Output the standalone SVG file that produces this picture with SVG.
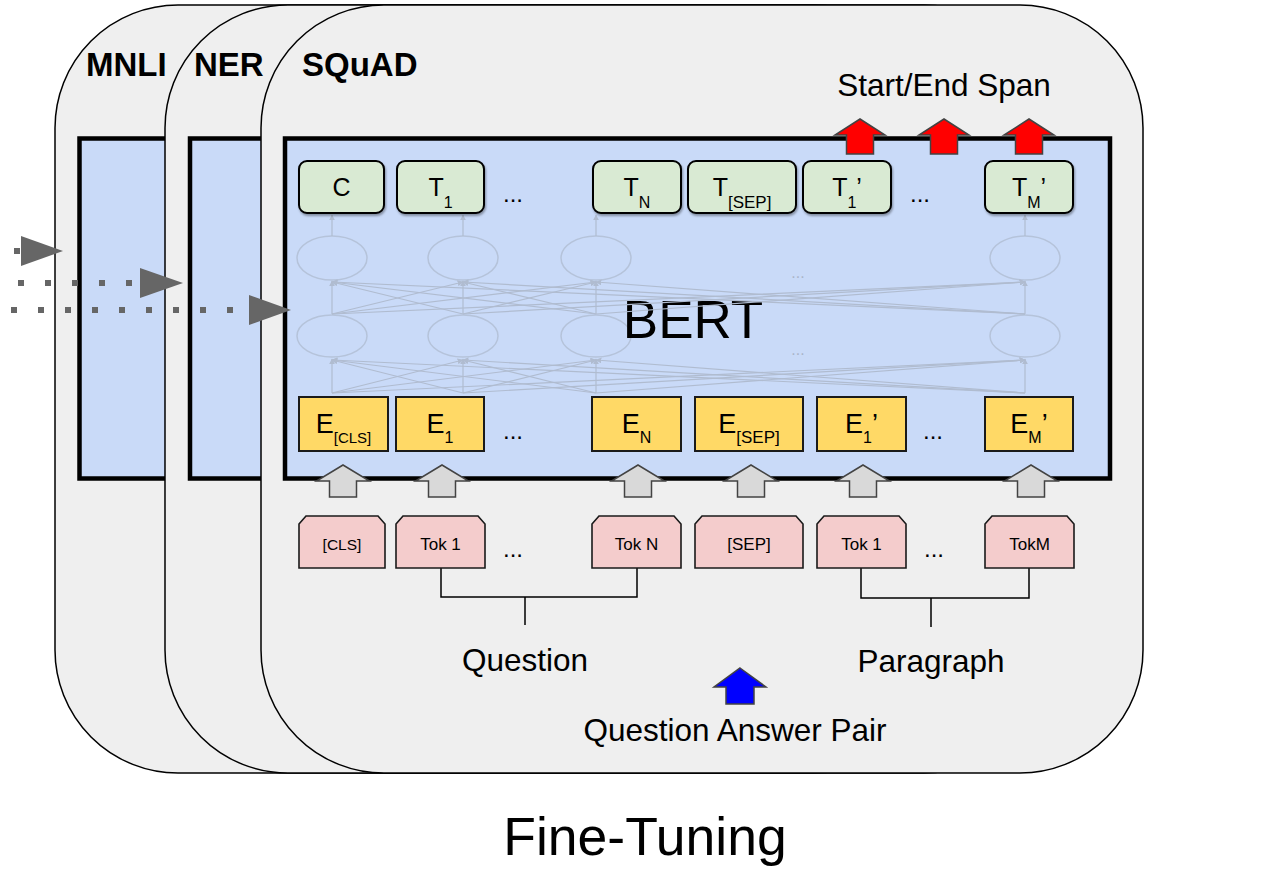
<svg xmlns="http://www.w3.org/2000/svg" width="1274" height="876" viewBox="0 0 1274 876">
<defs>
<style>
text{font-family:"Liberation Sans",Arial,sans-serif;fill:#000}
.card{fill:#efefef;stroke:#000;stroke-width:1.5}
.bert{fill:#c9daf8;stroke:#000;stroke-width:4.5}
.title{font-size:33px;font-weight:bold}
.tbox{fill:#d9ead3;stroke:#000;stroke-width:2;filter:url(#sh)}
.ebox{fill:#ffd966;stroke:#1a1a1a;stroke-width:2}
.tok{fill:#f4cccc;stroke:#1a1a1a;stroke-width:1.6}
.lbl{font-size:31.5px}
.tl{font-size:25px}
.el{font-size:27px}
.kl{font-size:17px}
.dots{font-size:24px}
.neuron{fill:none;stroke:#b5c3da;stroke-width:1.5}
.net{stroke:#b0bcd0;stroke-width:1.2;fill:none;marker-end:url(#nh)}
.faint{font-size:16px;fill:#a9b5ca}
.br{fill:none;stroke:#000;stroke-width:1.5}
.dot{stroke:#666;stroke-width:6;stroke-dasharray:6 21}
.head{fill:#666}
.garrow{fill:#d9d9d9;stroke:#434343;stroke-width:1.5}
.rarrow{fill:#f00;stroke:#434343;stroke-width:1.5}
.barrow{fill:#00f;stroke:#434343;stroke-width:1.5}
</style>
<filter id="sh" x="-10%" y="-10%" width="130%" height="140%"><feDropShadow dx="1" dy="2" stdDeviation="1.2" flood-color="#000" flood-opacity="0.35"/></filter>
<marker id="nh" viewBox="0 0 10 10" refX="9" refY="5" markerWidth="5" markerHeight="5" orient="auto"><path d="M0,0 L10,5 L0,10 Z" fill="#b0bcd0"/></marker>
<path id="ra" d="M0,0 L25,16 L13.5,16 L13.5,35 L-13.5,35 L-13.5,16 L-25,16 Z"/>
<path id="ga" d="M0,0 L26.5,16 L13.5,16 L13.5,32 L-13.5,32 L-13.5,16 L-26.5,16 Z"/>
<path id="ba" d="M0,0 L26,19 L14,19 L14,36 L-14,36 L-14,19 L-26,19 Z"/>
</defs>

<g id="card-mnli">
<rect class="card" x="55" y="5" width="882" height="768" rx="123"/>
<rect class="bert" x="79.5" y="138.5" width="800" height="340"/>
<text class="title" x="86" y="76">MNLI</text>
</g>
<g id="card-ner">
<rect class="card" x="165" y="5" width="882" height="768" rx="123"/>
<rect class="bert" x="190" y="138.5" width="800" height="340"/>
<text class="title" x="194" y="76">NER</text>
</g>
<g id="card-squad">
<rect class="card" x="261" y="5" width="882" height="768" rx="123"/>
<text class="title" x="302" y="76">SQuAD</text>
</g>
<g id="bert">
<rect class="bert" x="285" y="138.5" width="825" height="340"/>
<g id="neurons">
<ellipse class="neuron" cx="332" cy="258" rx="35" ry="22"/>
<ellipse class="neuron" cx="463" cy="258" rx="35" ry="22"/>
<ellipse class="neuron" cx="596" cy="258" rx="35" ry="22"/>
<ellipse class="neuron" cx="1025" cy="258" rx="35" ry="22"/>
<ellipse class="neuron" cx="332" cy="336" rx="35" ry="21"/>
<ellipse class="neuron" cx="463" cy="336" rx="35" ry="21"/>
<ellipse class="neuron" cx="596" cy="336" rx="35" ry="21"/>
<ellipse class="neuron" cx="1025" cy="336" rx="35" ry="21"/>
<text class="faint" x="798" y="278" text-anchor="middle">...</text>
<text class="faint" x="798" y="355" text-anchor="middle">...</text>
</g>
<text x="693" y="338" font-size="53" text-anchor="middle">BERT</text>
</g>

<g id="connectors">
<g id="net">
<line class="net" x1="332" y1="393" x2="332" y2="359"/>
<line class="net" x1="332" y1="393" x2="463" y2="360"/>
<line class="net" x1="332" y1="393" x2="596" y2="360"/>
<line class="net" x1="332" y1="393" x2="1025" y2="360"/>
<line class="net" x1="463" y1="393" x2="332" y2="360"/>
<line class="net" x1="463" y1="393" x2="463" y2="359"/>
<line class="net" x1="463" y1="393" x2="596" y2="360"/>
<line class="net" x1="463" y1="393" x2="1025" y2="360"/>
<line class="net" x1="596" y1="393" x2="332" y2="360"/>
<line class="net" x1="596" y1="393" x2="463" y2="360"/>
<line class="net" x1="596" y1="393" x2="596" y2="359"/>
<line class="net" x1="596" y1="393" x2="1025" y2="360"/>
<line class="net" x1="1025" y1="393" x2="332" y2="360"/>
<line class="net" x1="1025" y1="393" x2="463" y2="360"/>
<line class="net" x1="1025" y1="393" x2="596" y2="360"/>
<line class="net" x1="1025" y1="393" x2="1025" y2="359"/>
<line class="net" x1="332" y1="314" x2="332" y2="281"/>
<line class="net" x1="332" y1="314" x2="463" y2="282"/>
<line class="net" x1="332" y1="314" x2="596" y2="282"/>
<line class="net" x1="332" y1="314" x2="1025" y2="282"/>
<line class="net" x1="463" y1="314" x2="332" y2="282"/>
<line class="net" x1="463" y1="314" x2="463" y2="281"/>
<line class="net" x1="463" y1="314" x2="596" y2="282"/>
<line class="net" x1="463" y1="314" x2="1025" y2="282"/>
<line class="net" x1="596" y1="314" x2="332" y2="282"/>
<line class="net" x1="596" y1="314" x2="463" y2="282"/>
<line class="net" x1="596" y1="314" x2="596" y2="281"/>
<line class="net" x1="596" y1="314" x2="1025" y2="282"/>
<line class="net" x1="1025" y1="314" x2="332" y2="282"/>
<line class="net" x1="1025" y1="314" x2="463" y2="282"/>
<line class="net" x1="1025" y1="314" x2="596" y2="282"/>
<line class="net" x1="1025" y1="314" x2="1025" y2="281"/>
<line class="net" x1="332" y1="236" x2="332" y2="215"/>
<line class="net" x1="463" y1="236" x2="463" y2="215"/>
<line class="net" x1="596" y1="236" x2="596" y2="215"/>
<line class="net" x1="1025" y1="236" x2="1025" y2="215"/>
</g>
<g id="brackets">
<path class="br" d="M441,568 V597 H637 V568 M525,597 V625"/>
<path class="br" d="M861,568 V598 H1029 V568 M931,598 V627"/>
</g>
<g id="input-arrows">
<use href="#ga" class="garrow" transform="translate(343,465)"/>
<use href="#ga" class="garrow" transform="translate(442,465)"/>
<use href="#ga" class="garrow" transform="translate(638,465)"/>
<use href="#ga" class="garrow" transform="translate(751,465)"/>
<use href="#ga" class="garrow" transform="translate(863,465)"/>
<use href="#ga" class="garrow" transform="translate(1031,465)"/>
</g>
<g id="output-arrows">
<use href="#ra" class="rarrow" transform="translate(860,119)"/>
<use href="#ra" class="rarrow" transform="translate(944,119)"/>
<use href="#ra" class="rarrow" transform="translate(1029,119)"/>
</g>
<use href="#ba" class="barrow" transform="translate(740,668)"/>
</g>

<g id="outputs">
<g id="t-c"><rect class="tbox" x="299" y="161" width="85" height="52" rx="8"/><text class="tl" x="341.5" y="196" text-anchor="middle">C</text></g>
<g id="t-1"><rect class="tbox" x="397" y="161" width="87" height="52" rx="8"/><text class="tl" x="440.5" y="196" text-anchor="middle">T<tspan font-size="16" dy="12">1</tspan></text></g>
<text class="dots" x="513" y="202" text-anchor="middle">...</text>
<g id="t-n"><rect class="tbox" x="593" y="161" width="88" height="52" rx="8"/><text class="tl" x="637" y="196" text-anchor="middle">T<tspan font-size="16" dy="12">N</tspan></text></g>
<g id="t-sep"><rect class="tbox" x="688" y="161" width="108" height="52" rx="8"/><text class="tl" x="742" y="196" text-anchor="middle">T<tspan font-size="17" dy="12">[SEP]</tspan></text></g>
<g id="t-1p"><rect class="tbox" x="803" y="161" width="88" height="52" rx="8"/><text class="tl" x="847" y="196" text-anchor="middle">T<tspan font-size="16" dy="12">1</tspan><tspan dy="-12">’</tspan></text></g>
<text class="dots" x="920" y="202" text-anchor="middle">...</text>
<g id="t-mp"><rect class="tbox" x="985" y="161" width="88" height="52" rx="8"/><text class="tl" x="1029" y="196" text-anchor="middle">T<tspan font-size="16" dy="12">M</tspan><tspan dy="-12">’</tspan></text></g>
</g>

<g id="embeddings">
<g id="e-cls"><rect class="ebox" x="299" y="397" width="89" height="54"/><text class="el" x="343.5" y="433" text-anchor="middle">E<tspan font-size="15" dy="10">[CLS]</tspan></text></g>
<g id="e-1"><rect class="ebox" x="396" y="397" width="88" height="54"/><text class="el" x="440" y="433" text-anchor="middle">E<tspan font-size="16" dy="10">1</tspan></text></g>
<text class="dots" x="513" y="439" text-anchor="middle">...</text>
<g id="e-n"><rect class="ebox" x="592" y="397" width="89" height="54"/><text class="el" x="636.5" y="433" text-anchor="middle">E<tspan font-size="16" dy="10">N</tspan></text></g>
<g id="e-sep"><rect class="ebox" x="695" y="397" width="108" height="54"/><text class="el" x="749" y="433" text-anchor="middle">E<tspan font-size="17" dy="10">[SEP]</tspan></text></g>
<g id="e-1p"><rect class="ebox" x="817" y="397" width="89" height="54"/><text class="el" x="861.5" y="433" text-anchor="middle">E<tspan font-size="16" dy="10">1</tspan><tspan dy="-10">’</tspan></text></g>
<text class="dots" x="933" y="439" text-anchor="middle">...</text>
<g id="e-mp"><rect class="ebox" x="985" y="397" width="88" height="54"/><text class="el" x="1029" y="433" text-anchor="middle">E<tspan font-size="16" dy="10">M</tspan><tspan dy="-10">’</tspan></text></g>
</g>

<g id="tokens">
<g id="tok-cls"><path class="tok" d="M299,524 L306,516 L378,516 L385,524 L385,568 L299,568 Z"/><text x="342" y="550" font-size="15.5" text-anchor="middle">[CLS]</text></g>
<g id="tok-1"><path class="tok" d="M396,524 L403,516 L478,516 L485,524 L485,568 L396,568 Z"/><text class="kl" x="440.5" y="550" text-anchor="middle">Tok 1</text></g>
<text class="dots" x="513" y="557" text-anchor="middle">...</text>
<g id="tok-n"><path class="tok" d="M592,524 L599,516 L674,516 L681,524 L681,568 L592,568 Z"/><text class="kl" x="636.5" y="550" text-anchor="middle">Tok N</text></g>
<g id="tok-sep"><path class="tok" d="M695,524 L702,516 L796,516 L803,524 L803,568 L695,568 Z"/><text class="kl" x="749" y="550" text-anchor="middle">[SEP]</text></g>
<g id="tok-1p"><path class="tok" d="M817,524 L824,516 L899,516 L906,524 L906,568 L817,568 Z"/><text class="kl" x="861.5" y="550" text-anchor="middle">Tok 1</text></g>
<text class="dots" x="934" y="557" text-anchor="middle">...</text>
<g id="tok-m"><path class="tok" d="M985,524 L992,516 L1067,516 L1074,524 L1074,568 L985,568 Z"/><text class="kl" x="1029.5" y="550" text-anchor="middle">TokM</text></g>
</g>

<g id="labels">
<text class="lbl" x="944" y="96" text-anchor="middle">Start/End Span</text>
<text class="lbl" x="525" y="671" text-anchor="middle">Question</text>
<text class="lbl" x="931" y="672" text-anchor="middle">Paragraph</text>
<text class="lbl" x="735" y="741" text-anchor="middle">Question Answer Pair</text>
<text x="645" y="855" font-size="53.5" text-anchor="middle">Fine-Tuning</text>
</g>

<g id="task-arrows">
<line class="dot" x1="14" y1="251" x2="22" y2="251"/>
<polygon class="head" points="21,236 63,251 21,266"/>
<line class="dot" x1="18" y1="283" x2="141" y2="283"/>
<polygon class="head" points="140,268 183,283 140,298"/>
<line class="dot" x1="11" y1="310" x2="250" y2="310"/>
<polygon class="head" points="249,295 291,310 249,325"/>
</g>
</svg>
